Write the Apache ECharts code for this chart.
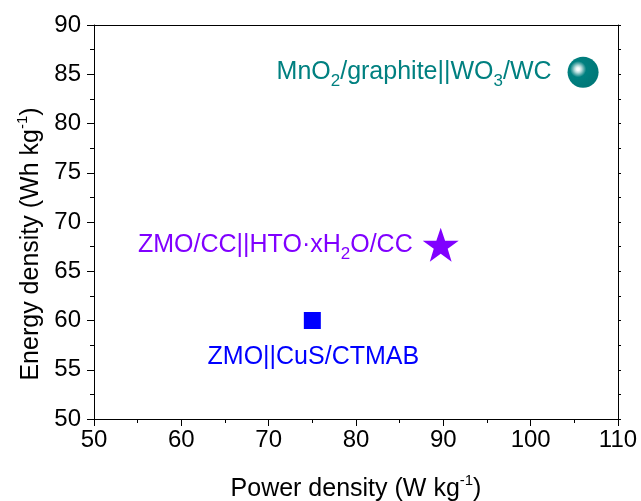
<!DOCTYPE html>
<html>
<head>
<meta charset="utf-8">
<script src="https://cdn.jsdelivr.net/npm/echarts@6/dist/echarts.min.js"></script>
<style>html,body{margin:0;padding:0;background:#fff}#c{width:641px;height:501px}</style>
</head>
<body>
<div id="c"></div>
<script>
// Data
const pointNames = ['ZMO||CuS/CTMAB', 'ZMO/CC||HTO·xH2O/CC', 'MnO2/graphite||WO3/WC'];
const powerDensity = [75, 89.7, 106.0];
const energyDensity = [60, 67.7, 85.2];
const xTicks = [50, 60, 70, 80, 90, 100, 110];
const yTicks = [50, 55, 60, 65, 70, 75, 80, 85, 90];

const FONT = '"Liberation Sans", Arial, sans-serif';
const chart = echarts.init(document.getElementById('c'), null, {renderer: 'canvas'});

function makeRich(c, fs, sfs, lh) {
  return {
    m: {color: c, fontSize: fs, fontFamily: FONT, lineHeight: lh, verticalAlign: 'middle'},
    sub: {color: c, fontSize: sfs, fontFamily: FONT, lineHeight: 14, verticalAlign: 'bottom'},
    sup: {color: c, fontSize: sfs, fontFamily: FONT, lineHeight: 14, verticalAlign: 'top'}
  };
}

const axisLine = {show: true, lineStyle: {color: '#000', width: 1}};

const option = {
  animation: false,
  backgroundColor: '#fff',
  grid: {left: 94, right: 23, top: 25, bottom: 82, containLabel: false, outerBoundsMode: 'none'},
  xAxis: [{
    type: 'value', min: xTicks[0], max: xTicks[xTicks.length - 1], interval: 10,
    axisLine: axisLine,
    axisTick: {show: true, inside: false, length: 7, lineStyle: {color: '#000'}},
    minorTick: {show: true, splitNumber: 2, length: 4, lineStyle: {color: '#000'}},
    splitLine: {show: false},
    axisLabel: {fontSize: 24, fontFamily: FONT, color: '#000', margin: 9},
    name: '{m|Power density (W kg}{sup|-1}{m|)}',
    nameLocation: 'middle', nameGap: 54,
    nameTextStyle: {fontSize: 25, fontFamily: FONT, color: '#000', rich: makeRich('#000', 25, 15, 32)}
  }, {
    type: 'value', position: 'top', min: 50, max: 110, interval: 10,
    axisLine: axisLine, axisTick: {show: false}, axisLabel: {show: false}, splitLine: {show: false}
  }],
  yAxis: [{
    type: 'value', min: yTicks[0], max: yTicks[yTicks.length - 1], interval: 5,
    axisLine: axisLine,
    axisTick: {show: true, inside: false, length: 7, lineStyle: {color: '#000'}},
    minorTick: {show: true, splitNumber: 2, length: 4, lineStyle: {color: '#000'}},
    splitLine: {show: false},
    axisLabel: {fontSize: 24, fontFamily: FONT, color: '#000', margin: 13},
    name: '{m|Energy density (Wh kg}{sup|-1}{m|)}',
    nameLocation: 'middle', nameGap: 47,
    nameTextStyle: {fontSize: 25, fontFamily: FONT, color: '#000', padding: [0, 44, 0, 0], rich: makeRich('#000', 25, 15, 32)}
  }, {
    type: 'value', position: 'right', min: 50, max: 90, interval: 5,
    axisLine: axisLine,
    axisTick: {show: true, inside: false, length: 3, lineStyle: {color: '#000'}},
    minorTick: {show: true, splitNumber: 2, length: 3, lineStyle: {color: '#000'}},
    axisLabel: {show: false}, splitLine: {show: false}
  }],
  series: [
    {
      type: 'scatter',
      symbol: 'rect', symbolSize: 17,
      itemStyle: {color: '#0000ff', opacity: 1},
      data: [[powerDensity[0], energyDensity[0]]],
      label: {
        show: true, position: 'bottom', distance: 10, offset: [1, 0],
        formatter: '{m|ZMO||CuS/CTMAB}', rich: makeRich('#0000ff', 25, 17, 36)
      }
    },
    {
      type: 'scatter',
      symbol: 'path://M50,0 L61.8,35.1 L98.5,35.1 L68.8,57.1 L79.4,91.9 L50,70.5 L20.6,91.9 L31.2,57.1 L1.5,35.1 L38.2,35.1 Z',
      symbolSize: [36, 34],
      itemStyle: {color: '#8000ff', opacity: 1},
      data: [[powerDensity[1], energyDensity[1]]],
      label: {
        show: true, position: 'left', distance: 10,
        formatter: '{m|ZMO/CC||HTO·xH}{sub|2}{m|O/CC}', rich: makeRich('#8000ff', 25, 17, 36)
      }
    },
    {
      type: 'scatter',
      symbol: 'circle', symbolSize: 31,
      itemStyle: {
        opacity: 1,
        color: {
          type: 'radial', x: 0.34, y: 0.4, r: 0.62,
          colorStops: [
            {offset: 0, color: '#ffffff'},
            {offset: 0.08, color: '#f4fafa'},
            {offset: 0.18, color: '#b8dcdc'},
            {offset: 0.3, color: '#5aacac'},
            {offset: 0.42, color: '#008080'},
            {offset: 1, color: '#007878'}
          ]
        }
      },
      data: [[powerDensity[2], energyDensity[2]]],
      label: {
        show: true, position: 'left', distance: 16,
        formatter: '{m|MnO}{sub|2}{m|/graphite||WO}{sub|3}{m|/WC}', rich: makeRich('#008080', 25, 17, 36)
      }
    }
  ]
};
chart.setOption(option);
</script>
</body>
</html>
